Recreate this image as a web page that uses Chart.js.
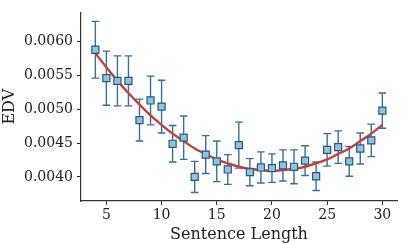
<!DOCTYPE html>
<html>
<head>
<meta charset="utf-8">
<script src="https://cdn.jsdelivr.net/npm/chart.js@4.4.1/dist/chart.umd.min.js"></script>
<style>
html,body{margin:0;padding:0;background:#fff;}
#wrap{width:407px;height:244px;}
</style>
</head>
<body>
<div id="wrap"><canvas id="c" width="407" height="244"></canvas></div>
<script>
const lengths = [4,5,6,7,8,9,10,11,12,13,14,15,16,17,18,19,20,21,22,23,24,25,26,27,28,29,30];
const edvMean = [0.00588,0.00546,0.00542,0.00542,0.00484,0.00513,0.00504,0.00449,0.00458,0.00400,0.00433,0.00423,0.00411,0.00447,0.00407,0.00414,0.00413,0.00417,0.00415,0.00424,0.00401,0.00440,0.00444,0.00423,0.00442,0.00454,0.00498];
const edvErr = [0.00042,0.00040,0.00037,0.00037,0.00031,0.00036,0.00039,0.00027,0.00032,0.00023,0.00028,0.00030,0.00022,0.00034,0.00020,0.00023,0.00021,0.00023,0.00025,0.00022,0.00021,0.00024,0.00024,0.00022,0.00023,0.00024,0.00026];
const fitCurve = [0.00583,0.00562,0.00542,0.00524,0.00507,0.00491,0.00477,0.00464,0.00453,0.00442,0.00434,0.00426,0.00420,0.00415,0.00412,0.00410,0.00409,0.00410,0.00412,0.00415,0.00420,0.00426,0.00434,0.00442,0.00453,0.00464,0.00477];
const xTicks = [5,10,15,20,25,30];
const yTicks = [0.0040,0.0045,0.0050,0.0055,0.0060];

const pts = lengths.map((x,i)=>({x:x,y:edvMean[i]}));
const fit = lengths.map((x,i)=>({x:x,y:fitCurve[i]}));

const errorBars = {
  id:'errorBars',
  beforeDatasetsDraw(chart){
    const ctx = chart.ctx, xs = chart.scales.x, ys = chart.scales.y;
    ctx.save();
    ctx.strokeStyle = '#3d6f8f';
    ctx.lineWidth = 1.4;
    lengths.forEach((x,i)=>{
      const px = xs.getPixelForValue(x);
      const top = ys.getPixelForValue(edvMean[i]+edvErr[i]);
      const bot = ys.getPixelForValue(edvMean[i]-edvErr[i]);
      ctx.beginPath();
      ctx.moveTo(px,top); ctx.lineTo(px,bot);
      ctx.moveTo(px-3.8,top); ctx.lineTo(px+3.8,top);
      ctx.moveTo(px-3.8,bot); ctx.lineTo(px+3.8,bot);
      ctx.stroke();
    });
    ctx.restore();
  }
};

const font = {family:'"DejaVu Serif", serif', size:14};
const tfont = {family:'"DejaVu Serif", serif', size:16};

new Chart(document.getElementById('c'),{
  type:'scatter',
  data:{datasets:[
    {type:'line',data:fit,borderColor:'#c0403c',borderWidth:2.4,pointRadius:0,tension:0.4,fill:false,order:2},
    {data:pts,pointStyle:'rect',pointRadius:5,pointBackgroundColor:'#92c3de',pointBorderColor:'#2a5877',pointBorderWidth:1.2,order:1}
  ]},
  plugins:[errorBars],
  options:{
    responsive:false,animation:false,
    layout:{padding:{left:0,right:10,top:3,bottom:0}},
    plugins:{legend:{display:false},tooltip:{enabled:false}},
    scales:{
      x:{type:'linear',min:2.7,max:31.33,
        afterBuildTicks(s){s.ticks=xTicks.map(v=>({value:v}));},
        afterFit(s){s.height=43;},
        grid:{display:true,drawOnChartArea:false,drawTicks:true,tickLength:4,tickColor:'#333',tickWidth:1},
        border:{display:true,color:'#333',width:1.2},
        ticks:{font:font,color:'#222',padding:2,maxRotation:0,callback:v=>String(v)},
        title:{display:true,text:'Sentence Length',font:tfont,color:'#222',padding:{top:0,bottom:0}}
      },
      y:{type:'linear',min:0.003644,max:0.006432,
        afterBuildTicks(s){s.ticks=yTicks.map(v=>({value:v}));},
        afterFit(s){s.width=81;},
        grid:{display:true,drawOnChartArea:false,drawTicks:true,tickLength:4,tickColor:'#333',tickWidth:1},
        border:{display:true,color:'#333',width:1.2},
        ticks:{font:font,color:'#222',padding:4,callback:v=>Number(v).toFixed(4)},
        title:{display:true,text:'EDV',font:tfont,color:'#222',padding:{top:0,bottom:0}}
      }
    }
  }
});
</script>
</body>
</html>
